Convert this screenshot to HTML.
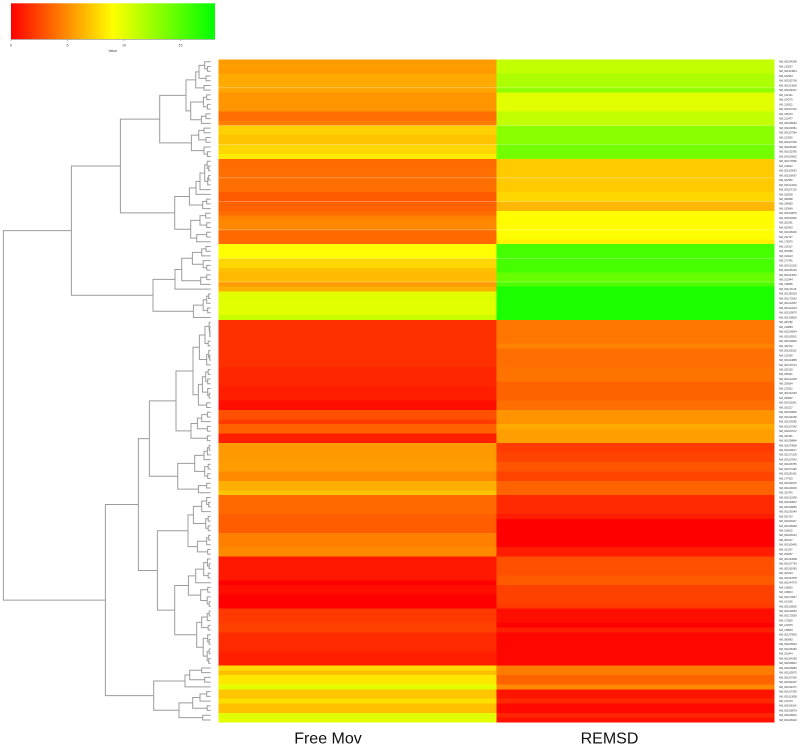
<!DOCTYPE html>
<html>
<head>
<meta charset="utf-8">
<title>Heatmap</title>
<style>
html,body{margin:0;padding:0;background:#fff;}
svg{display:block;font-family:"Liberation Sans",Arial,sans-serif;}
</style>
</head>
<body>
<svg id="chart" xmlns="http://www.w3.org/2000/svg" width="800" height="747" viewBox="0 0 800 747">
  <defs>
    <linearGradient id="key-gradient" x1="0" x2="1" y1="0" y2="0">
      <stop offset="0" stop-color="#ff0000"/>
      <stop offset="0.5" stop-color="#ffff00"/>
      <stop offset="1" stop-color="#00ff00"/>
    </linearGradient>
  </defs>
  <g id="key"></g>
  <g id="dendrogram" fill="none" stroke="#9c9c9c" stroke-width="1"></g>
  <g id="cells" shape-rendering="crispEdges"></g>
  <g id="seams"></g>
  <g id="rowlabels" font-size="2.5" fill="#333"></g>
  <g id="collabels" font-size="16" fill="#111"></g>
</svg>
<script>
var columns = ["Free Mov", "REMSD"];
var keyTicks = [0, 5, 10, 15];
var freeMov = [
5.5,5.6,5.5,6.0,6.0,6.1,5.8,5.3,5.3,5.3,
5.3,3.9,3.9,4.5,7.4,7.4,6.9,6.9,7.6,7.6,
8.3,3.8,3.8,3.9,3.9,3.9,3.9,3.9,3.2,3.2,
3.4,3.5,3.8,4.6,4.8,4.8,3.7,3.7,3.7,9.0,
9.0,9.0,7.6,7.6,6.8,6.5,6.6,5.5,6.2,10.0,
10.2,10.1,10.1,10.1,11.0,1.7,1.7,1.7,1.7,1.7,
1.7,1.7,1.7,1.7,1.7,1.3,1.3,1.3,1.3,1.1,
1.1,1.1,0.5,0.5,2.8,2.8,2.1,3.4,3.4,1.1,
1.1,5.4,5.4,5.4,5.4,5.6,5.6,4.9,4.9,6.2,
6.2,7.0,3.7,3.7,3.7,3.7,3.3,3.3,3.3,3.3,
4.5,4.5,4.5,4.9,4.9,0.8,0.8,0.8,0.8,0.8,
0.0,0.5,0.5,0.0,0.0,0.0,2.0,2.0,2.0,2.3,
2.3,1.5,1.5,1.5,1.5,1.1,1.1,1.1,7.8,6.8,
8.2,8.2,10.0,7.0,7.0,7.9,6.8,6.8,10.1,10.1
];
var remsd = [
11.2,11.2,11.2,12.0,12.0,12.0,13.0,10.1,10.1,10.1,
10.1,11.2,11.2,11.2,13.2,13.2,13.2,13.2,14.0,14.0,
14.0,7.2,7.2,7.2,7.2,7.2,7.2,7.2,7.6,7.6,
6.5,6.5,9.0,9.0,8.9,8.9,9.0,9.0,8.5,15.6,
15.6,15.6,15.6,15.6,15.6,14.4,14.4,15.3,17.1,17.1,
17.1,17.1,17.1,17.1,17.1,4.2,4.2,4.2,4.2,4.2,
4.6,3.9,3.9,3.9,3.9,4.1,4.1,4.1,3.5,3.5,
3.5,3.5,3.9,3.9,5.2,5.2,5.2,6.0,5.6,5.6,
5.6,2.1,2.1,2.4,2.4,3.0,3.0,2.4,2.4,3.5,
3.5,3.5,1.5,1.5,1.5,1.5,1.0,0.0,0.0,0.0,
0.0,0.0,0.0,1.0,1.0,2.8,2.8,2.8,2.8,3.2,
3.2,2.3,2.3,2.3,2.3,2.0,0.5,0.5,0.5,0.0,
1.1,0.2,0.2,0.2,0.2,0.2,0.2,0.2,4.4,4.4,
3.5,3.5,4.9,0.7,0.7,1.4,0.3,0.3,1.3,0.6
];
var rowNames = [
"NM_001164288","NM_133027","NM_001013821","NM_032964","NM_001105708","NM_001013066","NM_001108137","NM_212141","NM_024275","NM_218321",
"NM_001107310","NM_198734","NM_213477","NM_001108693","NM_001109361","NM_001107584","NM_213052","NM_001107909","NM_001106349","NM_001011995",
"NM_001109622","NM_001170566","NM_219012","NM_001109525","NM_001108067","NM_022950","NM_001013219","NM_001107120","NM_182828","NM_080698",
"NM_198583","NM_023949","NM_001100875","NM_001103660","NM_201081","NM_053403","NM_001108403","NM_152727","NM_178579","NM_216137",
"NM_053589","NM_013023","NM_177491","NM_001012226","NM_001106403","NM_001013067","NM_012944","NM_138696","NM_001171119","NM_001291535",
"NM_001170563","NM_001012057","NM_001012024","NM_001109579","NM_001108835","NM_080782","NM_218884","NM_001106804","NM_001105915","NM_001109846",
"NM_152722","NM_001108115","NM_133290","NM_001024865","NM_001276713","NM_031538","NM_053051","NM_001012225","NM_206904","NM_212912",
"NM_001037218","NM_053822","NM_001191841","NM_031527","NM_001109826","NM_001011938","NM_001109285","NM_001107545","NM_001107972","NM_181381",
"NM_001008884","NM_001079839","NM_001109017","NM_001271339","NM_001107843","NM_001108755","NM_001271180","NM_001191661","NM_177903","NM_001191879",
"NM_001134003","NM_153740","NM_001012345","NM_001109807","NM_001108885","NM_001191849","NM_053710","NM_001109417","NM_001005283","NM_016622",
"NM_001105313","NM_001047","NM_001109465","NM_013197","NM_053087","NM_001204508","NM_001107794","NM_001191983","NM_203204","NM_001047878",
"NM_001044775","NM_138830","NM_138813","NM_001170547","NM_013156","NM_001105805","NM_001142863","NM_001170559","NM_173835","NM_212976",
"NM_138503","NM_001279953","NM_080883","NM_001106994","NM_001106493","NM_021844","NM_001164358","NM_001108841","NM_001105883","NM_001105975",
"NM_001107639","NM_001191807","NM_001011971","NM_001107359","NM_001013058","NM_213179","NM_001108114","NM_001108979","NM_001108616","NM_001108423"
];
var rowSeams = [6, 14, 18, 25, 30, 36, 42, 47];
var dendrogramTree = [207.3,
  [139.3,
    [90.3,
      [51,
        [24.7,
          [15, [11.7, [6, 0, [3.3, 1, 2]], [4.7, 3, 4]], [6.7, 5, 6]],
          [20, [7.3, [4, 7, 8], [3.3, 9, 10]], [9.3, [4.7, 11, 12], 13]]
        ],
        [19.3, [12, [6.7, 14, 15], [4.7, 16, 17]], [6.7, 18, [3.3, 19, 20]]]
      ],
      [36,
        [21.3,
          [14.7, [10.7, [6, [3.5, 21, [2, 22, 23]], [3, [2, 24, 25], 26]], 27], 28],
          [8, [4, 29, 30], 31]
        ],
        [20, [10.7, [5, 32, 33], [4, 34, 35]], [14, [4, 36, 37], 38]]
      ]
    ],
    [57.7,
      [35.7,
        [29,
          [18.3, [9, [4.7, 39, 40], 41], [7.5, 42, [4, 43, 44]]],
          [10, [4, 45, 46], 47]
        ],
        48
      ],
      [17.3, [7.5, [4, [2, 49, 50], 51], [3, 52, 53]], 54]
    ]
  ],
  [105.3,
    [72.3,
      [61.3,
        [34.7,
          [17.7,
            [11.3,
              [5.7, [1.5, 55, [1, 56, [0.8, 57, 58]]], [2.5, 59, 60]],
              [4, [2, 61, [1, 62, 63]], 64]
            ],
            [12.3,
              [8.3, [5, [2.5, 65, 66], [3, 67, 68]], [3, 69, [1.5, 70, 71]]],
              [4, 72, 73]
            ]
          ],
          [19.7, [13.3, [9, [3.3, 74, 75], 76], [3.3, 77, 78]], [3.3, 79, 80]]
        ],
        [33,
          [16, [6.7, [3.3, [1.5, 81, 82], 83], 84], [6, [2.5, 85, 86], [3, 87, 88]]],
          [12.3, [4, 89, 90], 91]
        ]
      ],
      [53.3,
        [22.7,
          [17.3, [9, [4, 92, [2, 93, 94]], 95], [5, [2.5, 96, 97], [2.5, 98, 99]]],
          [13.3, [4, [2, 100, 101], 102], [3, 103, 104]]
        ],
        [36,
          [22.3,
            [15, [7, [3.3, 105, [1.5, 106, 107]], [2.5, 108, 109]], 110],
            [10, [3, 111, 112], [3.5, 113, [1.5, 114, 115]]]
          ],
          [14,
            [9, [3.5, [1.5, 116, 117], 118], [2.5, 119, 120]],
            [7.5, [3, 121, [1.5, 122, 123]], [3.5, [1.5, 124, 125], [2, 126, 127]]]
          ]
        ]
      ]
    ],
    [57,
      [25.7, [21, [9, 128, 129], [6, 130, 131]], 132],
      [31.7, [18, [10.7, [4, 133, 134], 135], [3.5, 136, 137]], [8, 138, 139]]
    ]
  ]
];

var NS = "http://www.w3.org/2000/svg";
var heatLeft = 218.4, heatRight = 774.4, heatTop = 59.4, heatBottom = 722.4;
var rowCount = freeMov.length;
var keyMax = 18.05;

function rowY(i) { return heatTop + (heatBottom - heatTop) * i / rowCount; }
function rowMid(i) { return rowY(i + 0.5); }
function colX(c) { return heatLeft + (heatRight - heatLeft) * c / columns.length; }
function keyX(v) { return 11 + (215 - 11) * v / keyMax; }
function treeX(h) { return 210.7 - h; }
function valueColor(v) {
  var m = keyMax / 2, r, g;
  if (v <= m) { r = 255; g = 255 * v / m; }
  else { r = 255 * (keyMax - v) / m; g = 255; }
  return "rgb(" + Math.round(Math.max(0, r)) + "," + Math.round(Math.min(255, g)) + ",0)";
}
function make(tag, attrs, parent) {
  var el = document.createElementNS(NS, tag);
  for (var k in attrs) el.setAttribute(k, attrs[k]);
  parent.appendChild(el);
  return el;
}

var keyG = document.getElementById("key");
var keyRect = make("rect", {x: keyX(0), y: 3.3, width: keyX(keyMax) - keyX(0), height: 36, fill: "url(#key-gradient)"}, keyG);


var keyAxis = make("line", {x1: keyX(0), x2: keyX(keyMax), y1: 39.4, y2: 39.4, stroke: "#777", "stroke-width": 0.5}, keyG);


keyTicks.forEach(function (t) {
  var tick = make("line", {x1: keyX(t), x2: keyX(t), y1: 39.4, y2: 41, stroke: "#777", "stroke-width": 0.5}, keyG);
  
  
  var lab = make("text", {x: keyX(t), y: 46.3, "font-size": 3.6, "text-anchor": "middle", fill: "#444"}, keyG);
  
  
  lab.textContent = String(t);
});
var keyTitle = make("text", {x: 112.7, y: 52, "font-size": 3.6, "text-anchor": "middle", fill: "#444"}, keyG);


keyTitle.textContent = "Value";

var cellsG = document.getElementById("cells");
[freeMov, remsd].forEach(function (series, c) {
  series.forEach(function (v, i) {
    var cell = make("rect", {x: colX(c), y: rowY(i), width: colX(c + 1) - colX(c), height: rowY(i + 1) - rowY(i), fill: valueColor(v)}, cellsG);
    
    
  });
});

var seamsG = document.getElementById("seams");
rowSeams.forEach(function (r) {
  var seam = make("rect", {x: heatLeft, y: rowY(r) - 0.35, width: heatRight - heatLeft, height: 0.7, fill: "#fff", opacity: 0.4}, seamsG);
  
  
});

var labelsG = document.getElementById("rowlabels");
rowNames.forEach(function (name, i) {
  var t = make("text", {x: 779, y: rowMid(i) + 0.9}, labelsG);
  
  
  t.textContent = name;
});

var colG = document.getElementById("collabels");
var colLabelCenters = [328, 609.5];
columns.forEach(function (name, c) {
  var t = make("text", {x: colLabelCenters[c], y: 743.5, "text-anchor": "middle"}, colG);
  
  
  t.textContent = name;
});

var treeG = document.getElementById("dendrogram");
function drawNode(node) {
  if (typeof node === "number") return {x: treeX(0), y: rowMid(node)};
  var a = drawNode(node[1]), b = drawNode(node[2]);
  var x = treeX(node[0]);
  var p = make("path", {d: "M" + a.x + " " + a.y + "H" + x + "V" + b.y + "H" + b.x}, treeG);
  
  
  return {x: x, y: (a.y + b.y) / 2};
}
drawNode(dendrogramTree);
</script>
</body>
</html>
